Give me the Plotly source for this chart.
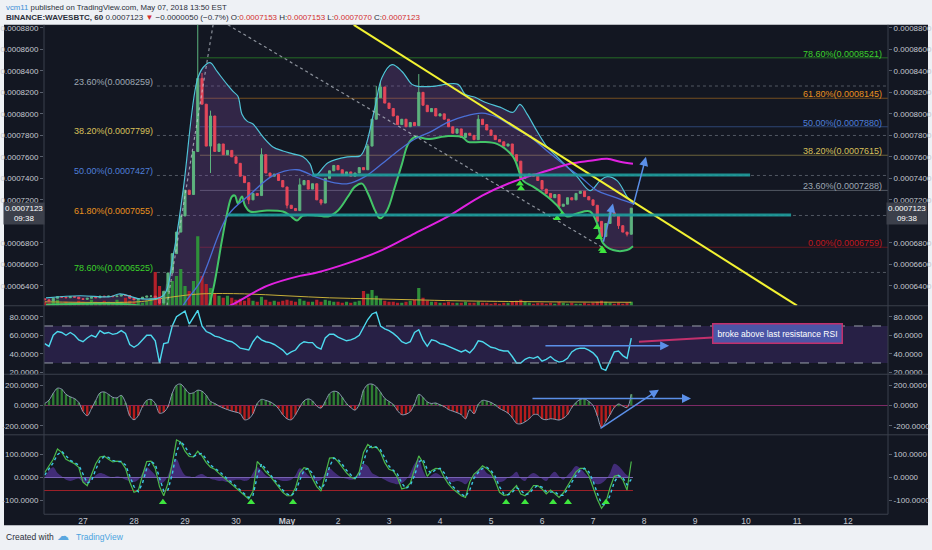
import plotly.graph_objects as go
from datetime import datetime, timedelta

FIG_W, FIG_H = 932, 550
BASE = datetime(2018, 4, 26)
FONT = "Liberation Sans"


def ts(h):
    return (BASE + timedelta(hours=h)).strftime("%Y-%m-%d %H:%M:%S")


def fx(px):
    return px / FIG_W


def fy(py):
    return 1 - py / FIG_H


# ---------------- data (2-hour bars, prices in units of 1e-7 BTC) ----------------
bar_hours = list(range(6, 283, 2))

closes = [
    6270, 6260, 6285, 6300, 6295, 6290, 6300, 6295, 6280,
    6275, 6285, 6295, 6290, 6305, 6300, 6305, 6300, 6305, 6315, 6310, 6285,
    6270, 6280, 6295, 6305, 6305, 6290, 6240, 6350, 6520, 6700, 6900, 7050,
    7290, 7250, 7650, 8330, 8090, 7700, 7980, 7650, 7720, 7620, 7660, 7600,
    7540, 7420, 7360, 7200, 7260, 7240, 7620, 7450, 7420, 7440, 7380, 7320,
    7150, 7120, 7100, 7340, 7380, 7300, 7350, 7200, 7170, 7400, 7470, 7520,
    7480, 7430, 7460, 7420, 7450, 7500, 7480, 7700, 7950, 8150, 8250, 8100,
    8050, 7980, 7900, 7950, 7880, 7920, 7890, 8200, 8080, 8020, 8050, 7980,
    8000, 7950, 7880, 7820, 7860, 7780, 7820, 7800, 7760, 7950, 7900, 7850,
    7800, 7760, 7740, 7700, 7720, 7620, 7560, 7400, 7420, 7440, 7420, 7380,
    7300, 7260, 7220, 7250, 7140, 7160, 7220, 7200, 7260, 7280, 7230, 7200,
    7150, 7000, 6860, 6980, 7080, 7050, 6960, 6900, 6880, 7123,
]
first_open = 6280
wick_high = {78: 9000, 80: 8380, 84: 8030, 108: 7680, 126: 7400, 158: 7720,
             162: 8260, 164: 8300, 182: 8370, 210: 7990}
wick_low = {60: 6230, 84: 7450, 102: 7160, 120: 7120, 136: 7150, 248: 7120,
            268: 6820, 276: 6930, 280: 6860}

volume = [
    4, 3, 5, 6, 3, 4, 3, 2, 5,
    4, 3, 6, 4, 3, 5, 4, 3, 6, 4, 8, 5,
    4, 6, 3, 5, 8, 34, 20, 12, 22, 25, 30, 37,
    20, 15, 25, 70, 30, 22, 18, 12, 10, 8, 10, 8,
    6, 7, 5, 8, 5, 4, 9, 6, 4, 5, 4, 5,
    6, 5, 4, 7, 5, 4, 4, 6, 4, 6, 5, 4,
    4, 3, 4, 3, 4, 5, 15, 12, 16, 10, 7, 5,
    4, 4, 3, 3, 4, 5, 6, 18, 8, 5, 4, 4,
    3, 3, 4, 3, 3, 3, 4, 3, 3, 4, 3, 3,
    2, 3, 2, 3, 3, 4, 5, 6, 4, 3, 2, 3,
    3, 2, 3, 2, 4, 3, 2, 3, 2, 2, 3, 2,
    3, 4, 5, 4, 3, 2, 3, 2, 3, 4,
]
volma_hours = [6, 50, 60, 70, 80, 100, 120, 140, 160, 180, 200, 240, 282]
volma_vals = [4, 4, 7, 10, 12, 12, 10, 8, 7, 6, 5, 4, 3.5]

rsi = [
    51, 48, 60, 64, 63, 60, 63, 60, 55,
    53, 57, 60, 58, 65, 62, 63, 61, 62, 65, 62, 50,
    47, 50, 55, 60, 60, 54, 30, 51, 52, 70, 80, 83,
    86, 72, 80, 87, 70, 64, 62, 59, 58, 56, 54, 53,
    50, 46, 45, 44, 53, 59, 55, 53, 52, 50, 47, 44,
    39, 42, 44, 50, 53, 52, 52, 47, 45, 57, 61, 61,
    58, 56, 54, 55, 57, 60, 68, 77, 83, 85, 70, 67,
    65, 62, 58, 53, 51, 53, 63, 66, 55, 48, 55, 54,
    51, 50, 48, 46, 44, 42, 44, 41, 46, 54, 53, 50,
    47, 46, 44, 43, 43, 37, 30, 30, 34, 36, 35, 37,
    32, 34, 37, 33, 31, 32, 35, 42, 45, 46, 46, 44,
    41, 36, 24, 22, 33, 42, 43, 38, 35, 57,
]

macd_hist = [
    20, 52, 120, 170, 160, 110, 85, 68, 30,
    -60, -100, -30, 50, 124, 133, 110, 80, 75, 100, 30, -100,
    -140, -100, -10, 50, 60, 20, -75, -65, -10, 120, 200, 210,
    166, 120, 125, 150, 140, 100, 40, 20, -5, -25, -40, -55,
    -65, -80, -140, -130, -80, 20, 60, 50, 36, 10, -30, -90,
    -130, -140, -90, -15, 45, 65, 45, -5, -25, 40, 115, 140,
    130, 80, 20, -20, -45, 10, 150, 205, 210, 185, 130, 70,
    40, 10, -50, -90, -85, -60, 15, 110, 80, 35, 20, 25,
    5, -10, -40, -55, -70, -90, -130, -40, -80, 10, 50, 45,
    30, 5, -29, -50, -75, -120, -175, -180, -160, -130, -90, -90,
    -130, -140, -130, -135, -143, -125, -90, -20, 30, 60, 65, 40,
    0, -100, -215, -160, -90, -20, 15, -5, -20, 110,
]

cci = [
    22, 51, 80, 125, 110, 80, 70, 60, 45,
    -20, -36, 10, 60, 90, 94, 80, 68, 72, 68, 40, -20,
    -65, -58, 10, 70, 72, 40, -40, -80, -25, 60, 165, 155,
    115, 92, 90, 115, 95, 65, 45, 36, 18, 2, -15, -30,
    -45, -62, -80, -94, -60, 70, 50, 25, 7, -18, -45, -65,
    -80, -80, -45, 20, 43, 38, -5, -40, -60, 10, 85, 87,
    70, 45, 20, 2, -7, 25, 110, 145, 130, 135, 110, 65,
    36, 29, 0, -50, -45, -25, 40, 95, 65, 5, 30, 40,
    38, 0, -29, -50, -65, -80, -87, -20, 15, 30, 51, 40,
    22, -15, -65, -78, -75, -55, -35, -72, -80, -62, -35, -35,
    -50, -72, -55, -70, -87, -68, -35, -5, 25, 40, 40, 10,
    -40, -95, -135, -110, -45, 5, 10, -10, -55, 70,
]

cci_signal = [
    10, 35, 65, 100, 115, 95, 75, 65, 55,
    15, -25, -15, 35, 75, 92, 88, 75, 70, 70, 55, 10,
    -40, -62, -25, 40, 70, 58, 0, -60, -55, 15, 110, 160,
    135, 105, 92, 102, 105, 80, 55, 40, 28, 10, -5, -22,
    -38, -55, -72, -88, -78, 5, 60, 38, 16, -5, -32, -55,
    -72, -80, -62, -12, 32, 40, 18, -22, -50, -25, 48, 85,
    80, 58, 32, 12, -2, 8, 68, 128, 138, 132, 122, 88,
    50, 32, 15, -25, -48, -35, 8, 68, 80, 35, 18, 35,
    40, 20, -15, -40, -58, -72, -84, -55, -3, 22, 40, 45,
    32, 4, -40, -72, -76, -65, -45, -55, -76, -70, -48, -35,
    -42, -62, -64, -62, -78, -78, -52, -20, 10, 32, 40, 25,
    -15, -68, -115, -122, -78, -20, 8, 0, -32, -8,
]

osc_hist = [
    0, 30, 45, 20, 5, -10, -15, -10, -5,
    -20, -25, -10, 10, 20, 15, 5, 0, 5, 0, -10, -15,
    -20, -10, 20, 45, 30, 10, -25, -20, 10, 60, 80, 40,
    10, 5, 0, 10, 15, 5, -5, -10, -15, -15, -20, -15,
    -10, -10, -15, -10, 20, 45, 30, 10, 0, -5, -10, -15,
    -15, -10, 10, 40, 30, 10, -5, -15, -10, 20, 40, 25,
    10, 0, -5, -10, -5, 30, 60, 50, 20, 10, 0, -10,
    -20, -25, -30, -25, -10, 20, 60, 80, 30, 0, 10, 20,
    10, -5, -15, -20, -15, -20, -30, -10, 10, 35, 40, 20,
    10, -10, -20, -15, 0, 10, 25, -5, -15, 10, 20, 10,
    -5, -15, 10, 25, 5, -10, 10, 30, 50, 40, 20, 0,
    -20, -30, -25, -10, 20, 60, 50, 30, 10, 0,
]

# Bollinger bands / moving averages (hour, price)
bb_upper_h = [6.6, 22.6, 36.7, 41.4, 50.8, 61.6, 66.4, 71.1, 77.6, 80.5, 83.8, 87.1, 91.8, 94.6, 96.9,
              98.8, 101.2, 104, 108.7, 113.4, 118.1, 122.8, 127.5, 130.8, 133.2, 139.3, 148.7, 154.4,
              156.7, 161.4, 164.7, 169.4, 174.1, 178.8, 181.6, 188.2, 200.5, 203.8, 208.5, 213.2,
              220.2, 226.4, 229.6, 233, 237.6, 242.4, 247.1, 251.8, 256.5, 262.6, 267.3, 270.6,
              275.3, 280, 282.8]
bb_upper_p = [6289, 6308, 6299, 6326, 6280, 6308, 6677, 7286, 8302, 8431, 8477, 8394, 8274, 8209, 8163,
              7997, 7932, 7905, 7785, 7692, 7655, 7628, 7600, 7535, 7425, 7545, 7600, 7609,
              7683, 8062, 8338, 8458, 8394, 8274, 8255, 8255, 8274, 8182, 8154, 8108,
              8062, 8015, 8089, 7997, 7840, 7692, 7600, 7508, 7416, 7286, 7379, 7416,
              7379, 7231, 7166]
bb_lower_h = [6.6, 32, 50.8, 65, 74.4, 81.4, 85.2, 89.4, 91.8, 94.1, 95.5, 96.9, 98.8, 100.2, 102.6,
              110.6, 118.1, 121.4, 124.7, 127.5, 134.1, 139.3, 144, 148.7, 152, 155.3, 158.1, 161.4,
              163.8, 167.1, 170.8, 174.1, 177, 180.2, 186.4, 195.8, 202.4, 205.2, 211.8, 218.8,
              226.4, 231.1, 235.8, 242.4, 247.1, 251.8, 256.5, 262.6, 265.9, 268.7, 273.4, 280, 282.8]
bb_lower_p = [6225, 6234, 6215, 6100, 5900, 6100, 6363, 6825, 7074, 7231, 7240, 7166, 7231, 7148, 7092,
              7102, 7092, 7055, 7009, 7055, 7055, 7046, 7102, 7231, 7323, 7351, 7259, 7102,
              7028, 7102, 7323, 7535, 7720, 7785, 7766, 7794, 7785, 7739, 7739, 7720,
              7600, 7379, 7323, 7231, 7148, 7046, 7074, 7092, 6982, 6797, 6733, 6733, 6769]
ma_blue_h = [65, 71.1, 79.1, 92.2, 102.6, 113.4, 124.7, 133.2, 140.2, 148.7, 156.7, 164.7, 172.2, 180.2,
             188.2, 195.8, 203.8, 211.8, 218.8, 226.4, 234.4, 242.4, 249.9, 257.9, 265.9, 273.4, 282.8]
ma_blue_p = [5900, 6216, 6437, 7056, 7249, 7425, 7480, 7416, 7369, 7351, 7416, 7535, 7655, 7766,
             7840, 7923, 7979, 8006, 7969, 7877, 7785, 7655, 7535, 7416, 7286, 7231, 7166]
ma_magenta_h = [85, 93.2, 110.6, 126.1, 133.2, 148.7, 164.7, 180.2, 195.8, 211.8, 226.4, 242.4, 253.2,
                262.6, 270.6, 276.7, 282.8]
ma_magenta_p = [6150, 6216, 6400, 6493, 6520, 6612, 6732, 6889, 7046, 7240, 7369, 7471, 7536,
                7563, 7582, 7554, 7535]

# drawings
trend_h = [151.4, 360]
trend_p = [8828, 6216]
dotted1_h = [92.2, 268.2]
dotted1_p = [8828, 6760]
dotted2_h = [63.5, 85.2]
dotted2_p = [6216, 8828]
teal_levels = [7432, 7060]
teal_start_h = [131.8, 92.2]
teal_end_h = [337.9, 357.2]

fib_left_vals = [8259, 7799, 7427, 7055, 6525]
fib_left_text = ['23.60%(0.0008259)', '38.20%(0.0007799)', '50.00%(0.0007427)',
                 '61.80%(0.0007055)', '78.60%(0.0006525)']
fib_left_colors = ['#9ea7b3', '#d8c05a', '#4f7fd8', '#e8921f', '#3bd12b']
fib_right_vals = [8521, 8145, 7880, 7615, 7288, 6759]
fib_right_text = ['78.60%(0.0008521)', '61.80%(0.0008145)', '50.00%(0.0007880)',
                  '38.20%(0.0007615)', '23.60%(0.0007288)', '0.00%(0.0006759)']
fib_right_colors = ['#3bd12b', '#e8921f', '#4f7fd8', '#d8c05a', '#9ea7b3', '#c0161c']

buy_marks_h = [229.6, 230.1, 247.1, 249.4, 265.9, 266.8, 268.2, 268.7]
buy_marks_p = [7351, 7305, 7028, 7065, 6945, 6852, 6742, 6723]
osc_marks_h = [61.6, 103.1, 122.8, 223.1, 232, 245.2, 252.2, 270.1]
osc_marks_v = [-109] * 8

price_ticks = [6400, 6600, 6800, 7000, 7200, 7400, 7600, 7800, 8000, 8200, 8400, 8600, 8800]
hidden_price_ticks = [7000]   # covered by the last-price box in the reference
x_tick_hours = [24, 48, 72, 96, 120, 144, 168, 192, 216, 240, 264, 288, 312, 336, 360, 384]
x_tick_text = ['27', '28', '29', '30', '<b>May</b>', '2', '3', '4', '5', '6', '7', '8', '9', '10', '11', '12']

# ---------------- derived candle structure ----------------
n = len(closes)
hrs = bar_hours[:n]
bar_x = [ts(h) for h in hrs]
opens = [first_open] + closes[:-1]
highs = [wick_high.get(h, max(o, c)) for h, o, c in zip(hrs, opens, closes)]
lows = [wick_low.get(h, min(o, c)) for h, o, c in zip(hrs, opens, closes)]
UP, DN = '#5db37e', '#e5475a'
vol_colors = ['#2f8f3a' if c >= o else '#b3202a' for o, c in zip(opens, closes)]
macd_colors = ['#2e7d32' if v >= 0 else '#b71c1c' for v in macd_hist]
BAR_MS = 2 * 3600 * 1000

fig = go.Figure()
sk = dict(hoverinfo='skip', showlegend=False)

# Bollinger fill (base price axis)
fig.add_trace(go.Scatter(
    x=[ts(h) for h in bb_upper_h] + [ts(h) for h in bb_lower_h[::-1]],
    y=bb_upper_p + bb_lower_p[::-1], fill='toself', fillcolor='rgba(122,72,160,0.30)',
    mode='lines', line=dict(width=0), yaxis='y', **sk))

# volume
fig.add_trace(go.Bar(x=bar_x, y=volume[:n], marker=dict(color=vol_colors, line=dict(width=0)),
                     width=BAR_MS * 0.75, yaxis='y5', **sk))
fig.add_trace(go.Scatter(x=[ts(h) for h in volma_hours], y=volma_vals, mode='lines',
                         line=dict(color='#c8b03a', width=1, shape='spline'), yaxis='y5', **sk))

# candles and overlays (right-side price axis overlay)
fig.add_trace(go.Candlestick(x=bar_x, open=opens, high=highs, low=lows, close=closes, yaxis='y6',
                             increasing=dict(line=dict(color=UP, width=1), fillcolor=UP),
                             decreasing=dict(line=dict(color=DN, width=1), fillcolor=DN),
                             whiskerwidth=0, **sk))
fig.add_trace(go.Scatter(x=[ts(h) for h in bb_upper_h], y=bb_upper_p, mode='lines',
                         line=dict(color='#4fc3d6', width=1.2, shape='spline'), yaxis='y6', **sk))
fig.add_trace(go.Scatter(x=[ts(h) for h in bb_lower_h], y=bb_lower_p, mode='lines',
                         line=dict(color='#43c467', width=2, shape='spline'), yaxis='y6', **sk))
fig.add_trace(go.Scatter(x=[ts(h) for h in ma_blue_h], y=ma_blue_p, mode='lines',
                         line=dict(color='#4a6fd6', width=1.3, shape='spline'), yaxis='y6', **sk))
fig.add_trace(go.Scatter(x=[ts(h) for h in ma_magenta_h], y=ma_magenta_p, mode='lines',
                         line=dict(color='#e021e0', width=2, shape='spline'), yaxis='y6', **sk))
fig.add_trace(go.Scatter(x=[ts(h) for h in dotted1_h], y=dotted1_p, mode='lines',
                         line=dict(color='rgba(205,210,220,0.65)', width=1.2, dash='dot'), yaxis='y6', **sk))
fig.add_trace(go.Scatter(x=[ts(h) for h in dotted2_h], y=dotted2_p, mode='lines',
                         line=dict(color='rgba(205,210,220,0.65)', width=1.2, dash='dot'), yaxis='y6', **sk))
fig.add_trace(go.Scatter(x=[ts(h) for h in trend_h], y=trend_p, mode='lines',
                         line=dict(color='#f2f232', width=2), yaxis='y6', **sk))
fig.add_trace(go.Scatter(x=[ts(h) for h in buy_marks_h], y=buy_marks_p, mode='markers',
                         marker=dict(symbol='triangle-up', size=7, color='#3ee63e'), yaxis='y6', **sk))

# RSI
fig.add_trace(go.Scatter(x=bar_x, y=rsi[:n], mode='lines', line=dict(color='#4dd9ee', width=1.4),
                         yaxis='y2', **sk))
# MACD histogram
fig.add_trace(go.Bar(x=bar_x, y=macd_hist[:n], marker=dict(color=macd_colors, line=dict(width=0)),
                     width=BAR_MS * 0.55, yaxis='y3', **sk))
fig.add_trace(go.Scatter(x=bar_x, y=macd_hist[:n], mode='lines',
                         line=dict(color='#8a9bb0', width=1, shape='spline'), yaxis='y3', **sk))
# bottom oscillator
fig.add_trace(go.Scatter(x=bar_x, y=osc_hist[:n], mode='lines', fill='tozeroy',
                         fillcolor='rgba(104,62,190,0.55)', line=dict(width=0, shape='spline'),
                         yaxis='y4', **sk))
fig.add_trace(go.Scatter(x=bar_x, y=cci[:n], mode='lines', line=dict(color='#4cb84a', width=1.2),
                         yaxis='y4', **sk))
fig.add_trace(go.Scatter(x=bar_x, y=cci_signal[:n], mode='lines',
                         line=dict(color='#3cc8e6', width=1.4, dash='dot'), yaxis='y4', **sk))
fig.add_trace(go.Scatter(x=[ts(h) for h in osc_marks_h], y=osc_marks_v, mode='markers',
                         marker=dict(symbol='triangle-up', size=7, color='#3ee63e'), yaxis='y4', **sk))

# invisible traces to carry the mirrored right-hand axes
for ax, v in (('y7', 50), ('y8', 0), ('y9', 0)):
    fig.add_trace(go.Scatter(x=[ts(100)], y=[v], mode='markers', marker=dict(opacity=0),
                             yaxis=ax, **sk))

# ---------------- axes ----------------
tickfont = dict(family=FONT, size=8, color='#c3c8d0')
cy = dict(showgrid=False, zeroline=False, showline=False, ticks='outside', ticklen=3,
          tickcolor='#59606d', tickfont=tickfont, fixedrange=True, anchor='x')
p_rng = [6215, 8828]
p_txt = ['' if v in hidden_price_ticks else f"{v / 1e7:.7f}" for v in price_ticks]
rsi_rng = [17.8, 90.8]
rsi_ticks = [20, 40, 60, 80]
rsi_txt = ['20.0000', '40.0000', '60.0000', '80.0000']
macd_rng = [-288, 307]
macd_ticks = [-200, 0, 200]
macd_txt = ['-200.0000', '0.0000', '200.0000']
osc_rng = [-161, 187]
osc_ticks = [-100, 0, 100]
osc_txt = ['-100.0000', '0.0000', '100.0000']

fig.update_layout(
    width=FIG_W, height=FIG_H, margin=dict(l=0, r=0, t=0, b=0),
    paper_bgcolor='#eef1f5', plot_bgcolor='rgba(0,0,0,0)', showlegend=False,
    hovermode=False, dragmode=False, font=dict(family=FONT),
    xaxis=dict(domain=[fx(44), fx(888)], range=[ts(5.65), ts(402.8)], anchor='y4',
               showgrid=False, zeroline=False, showline=False, ticks='',
               tickvals=[ts(h) for h in x_tick_hours], ticktext=x_tick_text,
               tickfont=dict(family=FONT, size=8.5, color='#c3c8d0'),
               rangeslider=dict(visible=False), fixedrange=True),
    yaxis=dict(domain=[fy(307), fy(24)], range=p_rng, side='left', tickvals=price_ticks, ticktext=p_txt, **cy),
    yaxis6=dict(overlaying='y', range=p_rng, side='right', tickvals=price_ticks, ticktext=p_txt, **cy),
    yaxis5=dict(overlaying='y', range=[0, 283], visible=False, anchor='x', fixedrange=True),
    yaxis2=dict(domain=[fy(376), fy(308)], range=rsi_rng, side='left', tickvals=rsi_ticks, ticktext=rsi_txt, **cy),
    yaxis7=dict(overlaying='y2', range=rsi_rng, side='right', tickvals=rsi_ticks, ticktext=rsi_txt, **cy),
    yaxis3=dict(domain=[fy(437), fy(376)], range=macd_rng, side='left', tickvals=macd_ticks, ticktext=macd_txt, **cy),
    yaxis8=dict(overlaying='y3', range=macd_rng, side='right', tickvals=macd_ticks, ticktext=macd_txt, **cy),
    yaxis4=dict(domain=[fy(517), fy(437)], range=osc_rng, side='left', tickvals=osc_ticks, ticktext=osc_txt, **cy),
    yaxis9=dict(overlaying='y4', range=osc_rng, side='right', tickvals=osc_ticks, ticktext=osc_txt, **cy),
)

# ---------------- shapes ----------------
shapes = [dict(type='rect', xref='paper', yref='paper', x0=fx(4), x1=fx(928), y0=fy(528), y1=fy(24),
               fillcolor='#131722', line=dict(width=0), layer='below')]
x_end = ts(402.8)
for v, c in zip(fib_left_vals, fib_left_colors):
    shapes.append(dict(type='line', xref='x', yref='y', x0=ts(58.8), x1=x_end, y0=v, y1=v,
                       line=dict(color='rgba(160,168,180,0.45)', width=1, dash='dot'), layer='below'))
for v, c in zip(fib_right_vals, fib_right_colors):
    shapes.append(dict(type='line', xref='x', yref='y', x0=ts(79), x1=x_end, y0=v, y1=v,
                       line=dict(color=c, width=1), opacity=0.45, layer='below'))
for v, a, b in zip(teal_levels, teal_start_h, teal_end_h):
    shapes.append(dict(type='line', xref='x', yref='y', x0=ts(a), x1=ts(b), y0=v, y1=v,
                       line=dict(color='#1f9e9e', width=3), opacity=0.9))
# RSI band
shapes.append(dict(type='rect', xref='paper', yref='y2', x0=fx(44), x1=fx(888), y0=30, y1=70,
                   fillcolor='rgba(112,70,196,0.22)', line=dict(width=0), layer='below'))
for v in (30, 70):
    shapes.append(dict(type='line', xref='paper', yref='y2', x0=fx(44), x1=fx(888), y0=v, y1=v,
                       line=dict(color='#9aa0ab', width=1, dash='dash')))
# MACD zero line
shapes.append(dict(type='line', xref='paper', yref='y3', x0=fx(44), x1=fx(888), y0=0, y1=0,
                   line=dict(color='#7d2a66', width=1), layer='below'))
# oscillator reference lines
shapes.append(dict(type='line', xref='x', yref='y4', x0=ts(5.65), x1=ts(282.8), y0=0, y1=0,
                   line=dict(color='#7e70b0', width=1), layer='below'))
shapes.append(dict(type='line', xref='x', yref='y4', x0=ts(5.65), x1=ts(282.8), y0=-57, y1=-57,
                   line=dict(color='#9c2028', width=1), layer='below'))
# panel separators and axis lines
SEP = '#3b404c'
for py in (307, 376, 437):
    shapes.append(dict(type='line', xref='paper', yref='paper', x0=fx(4), x1=fx(928), y0=fy(py), y1=fy(py),
                       line=dict(color=SEP, width=1)))
shapes.append(dict(type='line', xref='paper', yref='paper', x0=fx(44), x1=fx(888), y0=fy(517), y1=fy(517),
                   line=dict(color=SEP, width=1)))
for px in (44, 888):
    shapes.append(dict(type='line', xref='paper', yref='paper', x0=fx(px), x1=fx(px), y0=fy(517), y1=fy(24),
                       line=dict(color=SEP, width=1)))
fig.update_layout(shapes=shapes)

# ---------------- annotations ----------------
ann = []
RED = '#d32f2f'
ann.append(dict(xref='paper', yref='paper', x=fx(4), y=fy(7), xanchor='left', yanchor='middle',
                showarrow=False, font=dict(family=FONT, size=7.8, color='#2a2e39'),
                text='<span style="color:#3d8fd6">vcm11</span> published on TradingView.com, May 07, 2018 13:50 EST'))
ann.append(dict(xref='paper', yref='paper', x=fx(4), y=fy(17), xanchor='left', yanchor='middle',
                showarrow=False, font=dict(family=FONT, size=8, color='#2a2e39'),
                text=('<b>BINANCE:WAVESBTC, 60</b> 0.0007123 <span style="color:%s">▼</span> −0.0000050 (−0.7%%) '
                      'O:<span style="color:%s">0.0007153</span> H:<span style="color:%s">0.0007153</span> '
                      'L:<span style="color:%s">0.0007070</span> C:<span style="color:%s">0.0007123</span>')
                % (RED, RED, RED, RED, RED)))
ann.append(dict(xref='paper', yref='paper', x=fx(4), y=fy(540), xanchor='left', yanchor='middle',
                showarrow=False, font=dict(family=FONT, size=8.5, color='#2a2e39'), text='Created with'))
ann.append(dict(xref='paper', yref='paper', x=fx(55), y=fy(539), xanchor='left', yanchor='middle',
                showarrow=False, font=dict(family='DejaVu Sans', size=12, color='#5aa7df'), text='☁'))
ann.append(dict(xref='paper', yref='paper', x=fx(74), y=fy(540), xanchor='left', yanchor='middle',
                showarrow=False, font=dict(family=FONT, size=8.5, color='#4aa3df'), text='TradingView'))

for v, t, c in zip(fib_left_vals, fib_left_text, fib_left_colors):
    ann.append(dict(xref='x', yref='y', x=ts(57.9), y=v, xanchor='right', yanchor='middle', yshift=4,
                    showarrow=False, font=dict(family=FONT, size=9, color=c), text=t))
for v, t, c in zip(fib_right_vals, fib_right_text, fib_right_colors):
    ann.append(dict(xref='x', yref='y', x=ts(401), y=v, xanchor='right', yanchor='middle', yshift=4,
                    showarrow=False, font=dict(family=FONT, size=9, color=c), text=t))

ARROW = '#5b8fe8'
arrows = [
    ('y', 273.4, 7166, 268.7, 6797),
    ('y', 288.9, 7600, 282.8, 7139),
    ('y2', 299.8, 48.6, 240.9, 48.6),
    ('y3', 310.1, 68, 234.8, 68),
    ('y3', 295, 156, 266.8, -234),
]
for yr, hx, hy, tx, ty in arrows:
    ann.append(dict(xref='x', yref=yr, axref='x', ayref=yr, x=ts(hx), y=hy, ax=ts(tx), ay=ty,
                    showarrow=True, arrowhead=2, arrowsize=1.2, arrowwidth=1.5, arrowcolor=ARROW, text=''))

ann.append(dict(xref='x', yref='y2', axref='x', ayref='y2', x=ts(285.6), y=53, ax=ts(350.7), ay=61.6,
                text='broke above last resistance RSI', font=dict(family=FONT, size=8.5, color='#ffffff'),
                bgcolor='#4b55a6', bordercolor='#c2306c', borderwidth=1.5, borderpad=4,
                showarrow=True, arrowhead=0, arrowwidth=2, arrowcolor='#c2306c'))

for px in (24, 907):
    ann.append(dict(xref='paper', yref='paper', x=fx(px), y=fy(214), xanchor='center', yanchor='middle',
                    showarrow=False, bgcolor='#3c404b', borderpad=1,
                    font=dict(family=FONT, size=8, color='#ffffff'), text='0.0007123<br>09:38'))
fig.update_layout(annotations=ann)

fig.write_html("out.html", config={'displayModeBar': False},
               post_script="document.body.style.margin='0px';")
